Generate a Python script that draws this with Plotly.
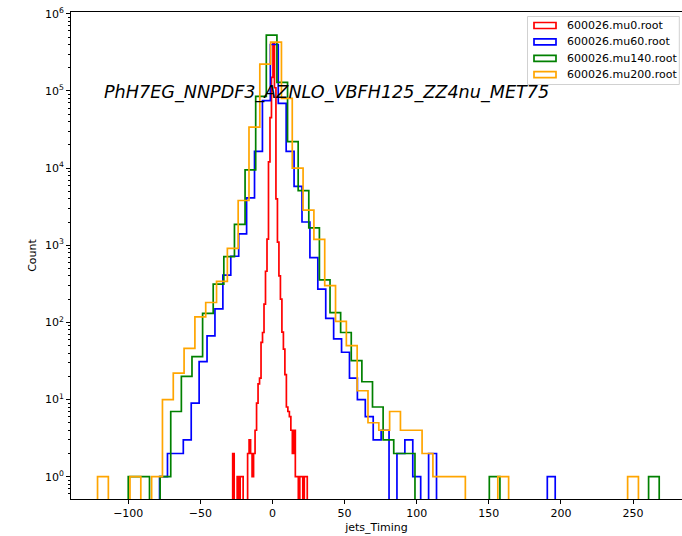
import numpy as np
import plotly.graph_objects as go

# ---- data ----
labels = ["600026.mu0.root", "600026.mu60.root", "600026.mu140.root", "600026.mu200.root"]
colors = ["#ff0000", "#0000ff", "#008000", "#ffa500"]

# each sample: 50 equal-width bins between its own min and max
mu0_range = (-27.6, 24.1)
mu0_counts = [2, 0, 0, 1, 0, 1, 1, 0, 0, 0,
              2, 3, 2, 1, 2, 4, 9, 16, 19, 55,
              74, 173, 460, 1200, 12000, 45000, 150000, 420000, 110000, 4000,
              1100, 400, 200, 75, 45, 21, 8, 7, 6, 4,
              2, 4, 1, 1, 0, 1, 1, 0, 1, 1]

mu60_range = (-78.3, 196.0)
mu60_counts = [1, 2, 2, 3, 9, 31, 67, 150, 410, 720,
               1400, 4100, 16500, 75000, 400000, 69000, 16500, 5800, 2000, 690,
               270, 113, 61, 41, 19, 10, 6, 3, 4, 0,
               2, 3, 1, 0, 2, 0, 0, 0, 0, 0,
               0, 0, 0, 0, 0, 0, 0, 0, 0, 1]

mu140_range = (-100.0, 268.1)
mu140_counts = [1, 1, 0, 1, 7, 20, 36, 131, 313, 710,
                1860, 9500, 85000, 530000, 129000, 22000, 5100, 1680, 355, 134,
                74, 32, 17, 8, 3, 2, 2, 0, 0, 0,
                0, 0, 0, 0, 1, 0, 0, 0, 0, 0,
                0, 0, 0, 0, 0, 0, 0, 0, 0, 1]

mu200_range = (-121.3, 253.7)
mu200_counts = [1, 0, 0, 1, 0, 1, 10, 22, 46, 118,
                181, 340, 910, 3800, 34000, 222000, 430000, 80000, 10000, 2850,
                1190, 300, 103, 50, 13, 5, 4, 7, 4, 4,
                2, 1, 1, 1, 0, 0, 0, 1, 0, 0,
                0, 0, 0, 0, 0, 0, 0, 0, 0, 1]

x_ticks = [-100, -50, 0, 50, 100, 150, 200, 250]
y_tick_vals = [1, 10, 100, 1000, 10000, 100000, 1000000]
y_tick_text = ["10<sup>%d</sup>" % k for k in range(7)]
title_text = "PhH7EG_NNPDF3_AZNLO_VBFH125_ZZ4nu_MET75"

# ---- layout geometry (pixels) ----
W, H = 682, 536
L, R, T, B = 71, 0, 12, 37
pw, ph = W - L - R, H - T - B
FONT = "DejaVu Sans"


def px(xp):
    return (xp - L) / pw


def py(yp):
    return (H - B - yp) / ph


def step_xy(rng, counts, floor=1e-2):
    edges = np.linspace(rng[0], rng[1], len(counts) + 1)
    xs, ys = [edges[0]], [floor]
    for i, c in enumerate(counts):
        v = c if c > 0 else floor
        xs += [edges[i], edges[i + 1]]
        ys += [v, v]
    xs.append(edges[-1])
    ys.append(floor)
    return xs, ys


fig = go.Figure()
series = [(mu0_range, mu0_counts), (mu60_range, mu60_counts),
          (mu140_range, mu140_counts), (mu200_range, mu200_counts)]
for (rng, cnt), lab, col in zip(series, labels, colors):
    xs, ys = step_xy(rng, cnt)
    fig.add_trace(go.Scatter(x=xs, y=ys, mode="lines", name=lab,
                             line=dict(color=col, width=1.7),
                             showlegend=False, hoverinfo="skip"))

minor_vals = [m * 10.0 ** k for k in range(-1, 6) for m in range(2, 10)]

fig.update_layout(
    width=W, height=H,
    margin=dict(l=L, r=R, t=T, b=B, pad=0),
    paper_bgcolor="white", plot_bgcolor="white",
    font=dict(family=FONT, size=11, color="black"),
    xaxis=dict(range=[-139.7, 283.9], tickvals=x_ticks, ticks="outside",
               ticklen=4, tickwidth=0.9, tickcolor="black",
               showline=True, linecolor="black", linewidth=0.9, mirror=True,
               showgrid=False, zeroline=False,
               title=dict(text="jets_Timing", standoff=4,
                          font=dict(size=11))),
    yaxis=dict(type="log", range=[-0.289, 6.023],
               tickvals=y_tick_vals, ticktext=y_tick_text,
               ticks="outside", ticklen=4, tickwidth=0.9, tickcolor="black",
               minor=dict(tickvals=minor_vals, ticks="outside", ticklen=2.2,
                          tickwidth=0.7, tickcolor="black", showgrid=False),
               showline=True, linecolor="black", linewidth=0.9,
               showgrid=False, zeroline=False,
               title=dict(text="Count", standoff=6, font=dict(size=11))),
)

# title text inside the axes
fig.add_annotation(x=px(102), y=py(92), xref="paper", yref="paper",
                   text="<i>%s</i>" % title_text, showarrow=False,
                   xanchor="left", yanchor="middle",
                   font=dict(family=FONT, size=17.6, color="black"))

# legend drawn as matplotlib-style box
shapes = [dict(type="rect", xref="paper", yref="paper",
               x0=px(527.5), x1=px(679.3), y0=py(84.5), y1=py(16.5),
               line=dict(color="#cccccc", width=0.9),
               fillcolor="rgba(255,255,255,0.8)", layer="above")]
row_y = [25.5, 41.9, 58.3, 74.6]
for lab, col, yc in zip(labels, colors, row_y):
    shapes.append(dict(type="rect", xref="paper", yref="paper",
                       x0=px(534), x1=px(556), y0=py(yc + 3), y1=py(yc - 3),
                       line=dict(color=col, width=1.7), fillcolor="rgba(0,0,0,0)",
                       layer="above"))
    fig.add_annotation(x=px(564.8), y=py(yc), xref="paper", yref="paper",
                       text=lab, showarrow=False, xanchor="left", yanchor="middle",
                       font=dict(family=FONT, size=11, color="black"))
fig.update_layout(shapes=shapes)

fig.write_html("out.html")
